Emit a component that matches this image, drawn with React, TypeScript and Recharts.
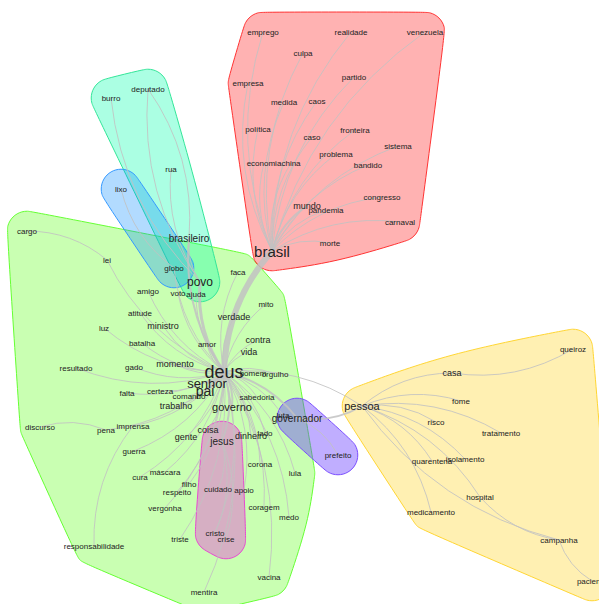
import React from 'react';
import { ScatterChart, Scatter, XAxis, YAxis, Curve } from 'recharts';

const WIDTH = 599;
const HEIGHT = 604;

// word communities: names and layout coordinates
const deusWords = ['deus', 'cargo', 'lei', 'amigo', 'atitude', 'luz', 'batalha', 'resultado', 'gado', 'falta', 'ministro', 'amor', 'momento', 'certeza', 'comando', 'senhor', 'pai', 'trabalho', 'imprensa', 'pena', 'discurso', 'coisa', 'gente', 'voto', 'ajuda', 'faca', 'mito', 'verdade', 'contra', 'vida', 'homem', 'orgulho', 'sabedoria', 'governo', 'luta', 'dinheiro', 'lado', 'guerra', 'cura', 'responsabilidade', 'máscara', 'filho', 'respeito', 'vergonha', 'corona', 'lula', 'coragem', 'medo', 'triste', 'vacina', 'mentira', 'apoio'];
const deusX = [224, 27, 107, 148, 140, 104, 142, 76, 134, 127, 163, 207, 175, 160, 189, 207, 205, 176, 133, 106, 40, 208, 186, 178, 196, 238, 266, 234, 258, 249, 253, 275, 257, 232, 283, 251, 265, 134, 140, 94, 165, 189, 177, 165, 260, 295, 264, 289, 180, 269, 204, 244];
const deusY = [372, 231, 260, 291, 313, 328, 343, 368, 367, 393, 326, 344, 364, 391, 396, 383, 391, 406, 426, 430, 427, 430, 437, 293, 294, 272, 304, 317, 340, 352, 373, 374, 397, 407, 415, 436, 433, 451, 477, 546, 472, 484, 492, 508, 464, 473, 507, 517, 539, 577, 592, 490];

const brasilWords = ['brasil', 'emprego', 'realidade', 'venezuela', 'culpa', 'partido', 'empresa', 'medida', 'caos', 'política', 'fronteira', 'caso', 'sistema', 'problema', 'economia', 'china', 'bandido', 'congresso', 'mundo', 'pandemia', 'carnaval', 'morte'];
const brasilX = [272, 263, 351, 425, 303, 354, 248, 284, 317, 258, 355, 312, 398, 336, 264, 291, 368, 382, 307, 326, 400, 330];
const brasilY = [251, 32, 32, 32, 53, 77, 83, 102, 101, 129, 130, 137, 146, 154, 163, 163, 165, 197, 206, 210, 222, 243];

const povoWords = ['povo', 'brasileiro', 'deputado', 'burro', 'rua'];
const povoX = [200, 189, 148, 111, 171];
const povoY = [282, 238, 89, 98, 169];

const globoWords = ['globo', 'lixo'];
const globoX = [174, 121];
const globoY = [268, 189];

const pessoaWords = ['pessoa', 'queiroz', 'casa', 'fome', 'risco', 'tratamento', 'quarentena', 'isolamento', 'hospital', 'medicamento', 'campanha', 'paciente'];
const pessoaX = [362, 573, 452, 461, 436, 501, 432, 465, 480, 431, 559, 592];
const pessoaY = [406, 349, 373, 401, 422, 433, 461, 459, 497, 512, 540, 581];

const governadorWords = ['governador', 'prefeito'];
const governadorX = [297, 338];
const governadorY = [418, 455];

const jesusWords = ['jesus', 'cuidado', 'cristo', 'crise'];
const jesusX = [222, 218, 215, 226];
const jesusY = [441, 489, 533, 539];

// word frequency (label size)
const wordFreq: Record<string, number> = {
  deus: 11, brasil: 8, pai: 7, senhor: 6, povo: 5, pessoa: 4, governo: 4,
  brasileiro: 3, governador: 3, jesus: 3, mundo: 2, casa: 2, dinheiro: 2,
  gente: 2, verdade: 2, contra: 2, vida: 2, ministro: 2, momento: 2, trabalho: 2, coisa: 2,
};

// words linked elsewhere instead of to their hub
const notToHub = ['cargo', 'discurso', 'responsabilidade', 'queiroz', 'paciente', 'campanha'];
const hubLinkWeight: Record<string, number> = { senhor: 3, pai: 2, governo: 2, mundo: 2 };

const linkFrom = ['deus', 'deus', 'deus', 'deus', 'deus', 'deus', 'pessoa', 'deus', 'cargo', 'discurso', 'responsabilidade', 'queiroz', 'paciente', 'campanha', 'deus', 'deputado', 'campanha'];
const linkTo = ['brasil', 'povo', 'brasileiro', 'globo', 'jesus', 'governador', 'governador', 'pessoa', 'lei', 'pena', 'imprensa', 'casa', 'campanha', 'hospital', 'cristo', 'brasileiro', 'pessoa'];
const linkWeight = [6, 3, 2, 1, 2, 2, 2, 1, 1, 1, 1, 1, 1, 1, 1, 1, 1];

type Pt = { x: number; y: number };

const groups = [
  { words: deusWords, xs: deusX, ys: deusY, fill: '#4dff00', stroke: '#66ff33', op: 0.3 },
  { words: povoWords, xs: povoX, ys: povoY, fill: '#00ffaa', stroke: '#33e699', op: 0.33 },
  { words: globoWords, xs: globoX, ys: globoY, fill: '#0088ff', stroke: '#3399ff', op: 0.3 },
  { words: brasilWords, xs: brasilX, ys: brasilY, fill: '#ff0000', stroke: '#ff3333', op: 0.3 },
  { words: pessoaWords, xs: pessoaX, ys: pessoaY, fill: '#ffcc00', stroke: '#ffd633', op: 0.3 },
  { words: governadorWords, xs: governadorX, ys: governadorY, fill: '#6134ff', stroke: '#7a4dff', op: 0.4 },
  { words: jesusWords, xs: jesusX, ys: jesusY, fill: '#ec37dc', stroke: '#e64bd0', op: 0.4 },
];

const nodes = groups.flatMap((g) =>
  g.words.map((w, i) => ({ name: w, x: g.xs[i], y: g.ys[i], freq: wordFreq[w] ?? 1 }))
);
const nodeOf = (w: string) => nodes.find((n) => n.name === w)!;

const links: { a: string; b: string; w: number }[] = [];
groups.forEach((g) => {
  g.words.slice(1).forEach((w) => {
    if (!notToHub.includes(w)) links.push({ a: g.words[0], b: w, w: hubLinkWeight[w] ?? 1 });
  });
});
linkFrom.forEach((a, i) => links.push({ a, b: linkTo[i], w: linkWeight[i] }));

const HULL_PAD = 20;

const convexHull = (pts: Pt[]): Pt[] => {
  const p = [...pts].sort((a, b) => a.x - b.x || a.y - b.y);
  const cross = (o: Pt, a: Pt, b: Pt) => (a.x - o.x) * (b.y - o.y) - (a.y - o.y) * (b.x - o.x);
  const lower: Pt[] = [];
  for (const q of p) {
    while (lower.length >= 2 && cross(lower[lower.length - 2], lower[lower.length - 1], q) <= 0) lower.pop();
    lower.push(q);
  }
  const upper: Pt[] = [];
  for (let i = p.length - 1; i >= 0; i--) {
    const q = p[i];
    while (upper.length >= 2 && cross(upper[upper.length - 2], upper[upper.length - 1], q) <= 0) upper.pop();
    upper.push(q);
  }
  return lower.slice(0, -1).concat(upper.slice(0, -1));
};

const hullLine = (fill: string, stroke: string, op: number) => (props: any) => {
  const ring: Pt[] = [];
  props.points.forEach((p: Pt) => {
    for (let k = 0; k < 24; k++) {
      const ang = (k * Math.PI) / 12;
      ring.push({ x: p.x + HULL_PAD * Math.cos(ang), y: p.y + HULL_PAD * Math.sin(ang) });
    }
  });
  return (
    <Curve type="basisClosed" points={convexHull(ring)} fill={fill} fillOpacity={op} stroke={stroke} strokeWidth={1} />
  );
};

// links bend a little, like the bundled layout
const linkLine = (w: number) => (props: any) => {
  const [a, b] = props.points as Pt[];
  const dx = b.x - a.x;
  const dy = b.y - a.y;
  const cx = (a.x + b.x) / 2 + dy * 0.18;
  const cy = (a.y + b.y) / 2 - dx * 0.18;
  return <path d={`M${a.x},${a.y}Q${cx},${cy} ${b.x},${b.y}`} fill="none" stroke="#c2c2c2" strokeOpacity={0.85} strokeWidth={w} />;
};

const renderWord = (props: any) => {
  const { cx, cy, payload } = props;
  return (
    <text x={cx} y={cy} textAnchor="middle" dominantBaseline="central" fontSize={7 + payload.freq} fill="#222" fontFamily="'Liberation Sans', Arial, sans-serif">
      {payload.name}
    </text>
  );
};

const noDot = () => <g />;

export default function App() {
  return (
    <div style={{ position: 'absolute', left: 0, top: 0, background: '#fff' }}>
      <ScatterChart width={WIDTH} height={HEIGHT} margin={{ top: 0, right: 0, bottom: 0, left: 0 }}>
        <XAxis type="number" dataKey="x" domain={[0, WIDTH]} hide />
        <YAxis type="number" dataKey="y" domain={[0, HEIGHT]} reversed hide />
        {groups.map((g, i) => (
          <Scatter
            key={`hull-${i}`}
            data={g.words.map((w) => nodeOf(w))}
            shape={noDot}
            line={hullLine(g.fill, g.stroke, g.op)}
            isAnimationActive={false}
          />
        ))}
        {links.map((l, i) => (
          <Scatter
            key={`link-${i}`}
            data={[nodeOf(l.a), nodeOf(l.b)]}
            shape={noDot}
            line={linkLine(l.w)}
            isAnimationActive={false}
          />
        ))}
        <Scatter data={nodes} shape={renderWord} isAnimationActive={false} />
      </ScatterChart>
    </div>
  );
}
